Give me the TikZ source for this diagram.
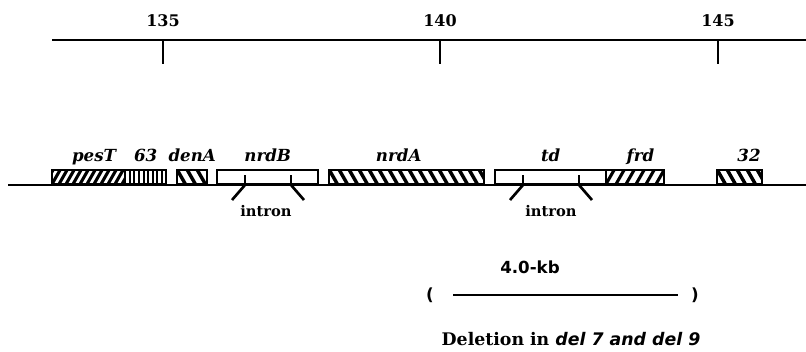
\documentclass[tikz,border=0pt]{standalone}
\usepackage{fontspec}
\setmainfont{DejaVu Serif}
\setsansfont{DejaVu Sans}
\usetikzlibrary{positioning, calc}

\begin{document}
\begin{tikzpicture}[
  x=0.75pt, y=-0.75pt, font=\bfseries,
  gene/.style={draw, line width=1.8pt, fill=white, minimum height=10.5pt, inner sep=0pt, anchor=south west},
  fwd/.style={path picture={\foreach \k in {-3,...,40}{\draw[line width=2.3pt] ([xshift=\k*#1*0.75pt]path picture bounding box.south west) -- ++(6pt,10.5pt);}}},
  bwd/.style={path picture={\foreach \k in {-3,...,40}{\draw[line width=2.6pt] ([xshift=\k*#1*0.75pt]path picture bounding box.north west) -- ++(6pt,-10.5pt);}}},
  vert/.style={path picture={\foreach \k in {1,...,12}{\draw[line width=1.4pt] ([xshift=\k*#1*0.75pt]path picture bounding box.south west) -- ++(0pt,10.5pt);}}},
  glabel/.style={font=\fontsize{12.5}{14}\selectfont\bfseries\itshape, inner sep=0pt, anchor=base},
  scalelab/.style={font=\fontsize{12}{14}\selectfont\bfseries},
  intron/.style={line width=2pt},
  base/.style={line width=1.8pt}
]
\useasboundingbox (0,0) rectangle (806,352);

% map scale
\draw[line width=2pt] (52,40) -- (806,40);
\foreach \x/\kb in {163/135, 440/140, 718/145}{
  \node[scalelab] (s\kb) at (\x,21) {\kb};
  \draw[line width=1.1pt] (\x,40) -- (\x,64);
}

% genes
\draw[base] (8,185) -- (806,185);
\node[gene, fwd=7, minimum width=54.75pt] (pesT) at (51,185) {};
\node[gene, vert=4.6, minimum width=30.75pt] (g63) at (124,185) {};
\node[gene, bwd=10, minimum width=22.5pt] (denA) at (176,185) {};
\node[gene, minimum width=75.75pt] (nrdB) at (216,185) {};
\node[gene, bwd=10, minimum width=116.25pt] (nrdA) at (328,185) {};
\node[gene, minimum width=83.25pt] (td) at (494,185) {};
\node[gene, fwd=10, minimum width=43.5pt] (frd) at (605,185) {};
\node[gene, bwd=10, minimum width=33.75pt] (g32) at (716,185) {};

\node[glabel] (lpesT) at ([xshift=4pt, yshift=5.5pt]pesT.north) {pesT};
\node[glabel] (l63) at ([yshift=5.5pt]g63.north) {63};
\node[glabel] (ldenA) at ([yshift=5.5pt]denA.north) {denA};
\node[glabel] (lnrdB) at ([yshift=5.5pt]nrdB.north) {nrdB};
\node[glabel] (lnrdA) at ([xshift=-6pt, yshift=5.5pt]nrdA.north) {nrdA};
\node[glabel] (ltd) at ([yshift=5.5pt]td.north) {td};
\node[glabel] (lfrd) at ([xshift=4pt, yshift=5.5pt]frd.north) {frd};
\node[glabel] (l32) at ([xshift=7pt, yshift=5.5pt]g32.north) {32};

% introns
\coordinate (b1) at (245,185);
\coordinate (b2) at (291,185);
\coordinate (t1) at (523,185);
\coordinate (t2) at (579,185);
\foreach \c/\d in {b1/-1, b2/1, t1/-1, t2/1}{
  \draw[line width=1.4pt] (\c) -- ++(0,-10);
  \draw[intron] (\c) -- ++(\d*13,15);
}
\node[font=\fontsize{11}{13}\selectfont\bfseries] (inB) at (266,211) {intron};
\node[font=\fontsize{11}{13}\selectfont\bfseries] (inT) at (551,211) {intron};

% deletion
\node[font=\fontsize{12.5}{14}\selectfont\sffamily\bfseries] (kb) at (530,267) {4.0-kb};
\node[font=\fontsize{12.5}{14}\selectfont\sffamily\bfseries] (lpar) at (430,295) {(};
\node[font=\fontsize{12.5}{14}\selectfont\sffamily\bfseries] (rpar) at (695,295) {)};
\coordinate (dl) at (453,295);
\coordinate (dr) at (678,295);
\draw[line width=1.5pt] (dl) -- (dr);
\node[font=\fontsize{13}{15}\selectfont\bfseries] (del) at (571,339) {Deletion in{\sffamily\itshape\ del 7 and del 9}};

\end{tikzpicture}
\end{document}
